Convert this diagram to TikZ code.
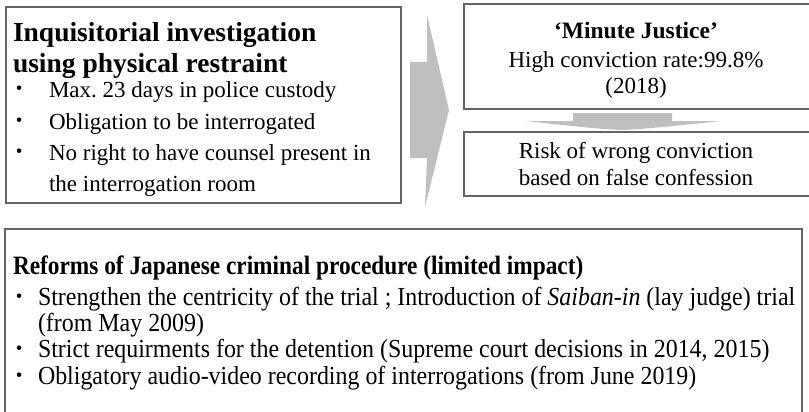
\documentclass[tikz,border=0pt]{standalone}
\usepackage{fontspec}
\setmainfont{Liberation Serif}
\newfontfamily\condfont[FakeStretch=0.88]{Liberation Serif}
\newfontfamily\condbfont[FakeStretch=0.92]{Liberation Serif}
\definecolor{arrowgray}{RGB}{191,191,191}
\definecolor{boxline}{RGB}{100,100,100}
\tikzset{
  panel/.style={draw=boxline, line width=1.3pt, fill=white},
  blockarrow/.style={fill=arrowgray, draw=none},
  txt/.style={anchor=base west, inner sep=0pt, outer sep=0pt},
  ctxt/.style={anchor=base, inner sep=0pt, outer sep=0pt},
  lefttitle/.style={font=\fontsize{27.5}{30}\selectfont\bfseries},
  bodytext/.style={font=\fontsize{23}{28}\selectfont},
  boldtext/.style={font=\fontsize{23.5}{28}\selectfont\bfseries},
  bulletmark/.style={font=\fontsize{19}{28}\selectfont},
  bottomtitle/.style={font=\condfont\fontsize{26.5}{30}\selectfont\bfseries},
  bottomtext/.style={font=\condbfont\fontsize{26}{30}\selectfont},
}
\begin{document}
\frenchspacing
\begin{tikzpicture}[x=1pt,y=-1pt]
\useasboundingbox (0,0) rectangle (809,412);
\clip (0,0) rectangle (809,412);
% boxes
\draw[panel] (6,7) rectangle (401,203);
\node[inner sep=0pt] (left) at (203.5,105) {};
\draw[panel] (464,4) rectangle (815,109);
\node[inner sep=0pt] (rtop) at (636,56) {};
\draw[panel] (464,132) rectangle (815,196);
\node[inner sep=0pt] (rbot) at (636,164) {};
\draw[panel] (5,229) rectangle (802,430);
\node[inner sep=0pt] (bottom) at (403,320) {};
% big arrow
\fill[blockarrow] (410,62) -- (427,62) -- (427,15) -- (449,110) -- (425,207) -- (427,158) -- (410,158) -- cycle;
% small arrow
\fill[blockarrow] (573,113) -- (672,113) -- (672,121) -- (722,121)
  .. controls (690,124) and (650,129) .. (622,130)
  .. controls (594,129) and (555,124) .. (525,121) -- (573,121) -- cycle;
% left text
\node[txt, lefttitle] (l1) at (13,42) {Inquisitorial investigation};
\node[txt, lefttitle] (l2) at (13,73) {using physical restraint};
\node[txt, bulletmark] (lb1) at (16,95) {•};
\node[txt, bodytext] (lt1) at (49,98) {Max. 23 days in police custody};
\node[txt, bulletmark] (lb2) at (16,126) {•};
\node[txt, bodytext] (lt2) at (49,129) {Obligation to be interrogated};
\node[txt, bulletmark] (lb3) at (16,157) {•};
\node[txt, bodytext] (lt3) at (49,160) {No right to have counsel present in};
\node[txt, bodytext] (lt4) at (49,191) {the interrogation room};
% right top text
\node[ctxt, boldtext] (r1) at (636,39) {‘Minute Justice’};
\node[ctxt, bodytext] (r2) at (636,67) {High conviction rate:99.8\%};
\node[ctxt, bodytext] (r3) at (636,93) {(2018)};
% right bottom text
\node[ctxt, bodytext] (r4) at (636,158) {Risk of wrong conviction};
\node[ctxt, bodytext] (r5) at (636,185) {based on false confession};
% bottom text
\node[txt, bottomtitle] (b0) at (13,274) {Reforms of Japanese criminal procedure (limited impact)};
\node[txt, bulletmark] (bb1) at (16,302) {•};
\node[txt, bottomtext] (bt1) at (38,305) {Strengthen the centricity of the trial ; Introduction of \textit{Saiban-in} (lay judge) trial};
\node[txt, bottomtext] (bt2) at (38,331) {(from May 2009)};
\node[txt, bulletmark] (bb2) at (16,354) {•};
\node[txt, bottomtext] (bt3) at (38,357) {Strict requirments for the detention (Supreme court decisions in 2014, 2015)};
\node[txt, bulletmark] (bb3) at (16,381) {•};
\node[txt, bottomtext] (bt4) at (38,384) {Obligatory audio-video recording of interrogations (from June 2019)};
\end{tikzpicture}
\end{document}
